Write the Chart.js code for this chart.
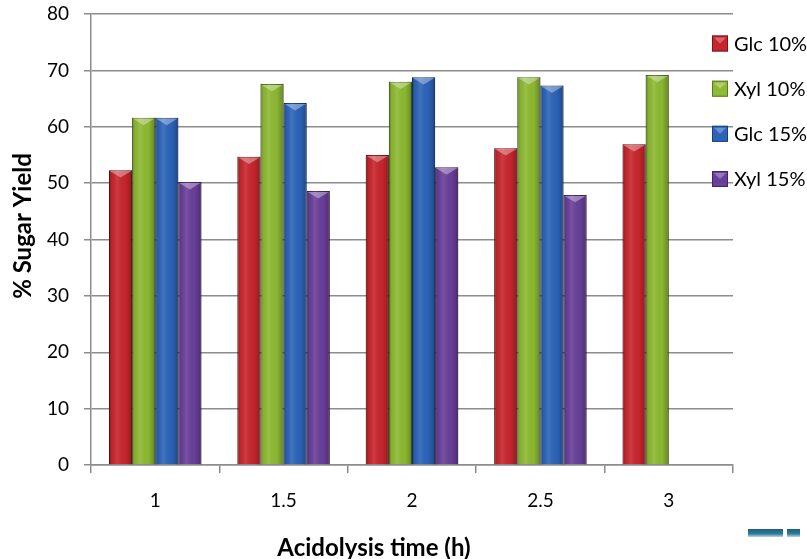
<!DOCTYPE html>
<html>
<head>
<meta charset="utf-8">
<script src="https://cdn.jsdelivr.net/npm/chart.js@4.4.1/dist/chart.umd.min.js"></script>
<style>
  html, body { margin: 0; padding: 0; background: #fff; overflow: hidden; }
  #wrap { position: relative; width: 807px; height: 559px; }
  .deco { position: absolute; top: 529px; height: 8px; background: linear-gradient(#1d5f7c, #2a7d9c 60%, #bcd6e0); }
</style>
</head>
<body>
<div id="wrap">
  <canvas id="yieldChart" width="807" height="559"></canvas>
  <div class="deco" style="left:748px;width:35px"></div>
  <div class="deco" style="left:787px;width:13px"></div>
</div>
<script>
// acidolysis time (h)
const times = ['1', '1.5', '2', '2.5', '3'];
const seriesNames = ['Glc 10%', 'Xyl 10%', 'Glc 15%', 'Xyl 15%'];
const glc10 = [52.3, 54.7, 55.0, 56.2, 56.9];
const xyl10 = [61.6, 67.6, 68.0, 68.8, 69.2];
const glc15 = [61.6, 64.2, 68.8, 67.3, null];
const xyl15 = [50.2, 48.6, 52.8, 47.9, null];
const yTicks = [0, 10, 20, 30, 40, 50, 60, 70, 80];
const xTitle = 'Acidolysis time (h)';
const yTitle = '% Sugar Yield';

const fills = ['#c8262d', '#8dba32', '#2c64b9', '#6a3f9b'];
const edges = ['#7e1418', '#5c7a1c', '#1b3f78', '#43266a'];

// shading on each bar so they look like the bevelled office bars
const barShade = {
  id: 'barShade',
  afterDatasetsDraw(chart) {
    const ctx = chart.ctx;
    chart.data.datasets.forEach((ds, i) => {
      chart.getDatasetMeta(i).data.forEach((bar, j) => {
        if (ds.data[j] == null) return;
        const { x, y, base, width } = bar.getProps(['x', 'y', 'base', 'width'], true);
        const l = x - width / 2, r = x + width / 2;
        ctx.save();
        const g = ctx.createLinearGradient(l, 0, r, 0);
        g.addColorStop(0, 'rgba(0,0,0,0.32)');
        g.addColorStop(0.12, 'rgba(0,0,0,0.05)');
        g.addColorStop(0.35, 'rgba(255,255,255,0.10)');
        g.addColorStop(0.7, 'rgba(0,0,0,0.02)');
        g.addColorStop(0.9, 'rgba(0,0,0,0.18)');
        g.addColorStop(1, 'rgba(0,0,0,0.38)');
        ctx.fillStyle = g;
        ctx.fillRect(l, y, width, base - y);
        // top bevel
        ctx.beginPath();
        ctx.moveTo(l + 1, y + 1);
        ctx.lineTo(r - 1, y + 1);
        ctx.lineTo(x, y + width * 0.32);
        ctx.closePath();
        ctx.fillStyle = 'rgba(255,255,255,0.35)';
        ctx.fill();
        ctx.restore();
      });
    });
  }
};

// legend sits on the right edge, overlapping the grid like the original
const sideLegend = {
  id: 'sideLegend',
  afterDraw(chart) {
    const ctx = chart.ctx;
    const rows = [43.5, 88.7, 133.8, 179];
    ctx.save();
    chart.data.datasets.forEach((ds, i) => {
      const cy = rows[i];
      const bx = 712, s = 16;
      ctx.fillStyle = fills[i];
      ctx.fillRect(bx, cy - s / 2, s, s);
      ctx.strokeStyle = edges[i];
      ctx.lineWidth = 1;
      ctx.strokeRect(bx + 0.5, cy - s / 2 + 0.5, s - 1, s - 1);
      ctx.fillStyle = 'rgba(255,255,255,0.3)';
      ctx.beginPath();
      ctx.moveTo(bx + 2, cy - s / 2 + 2);
      ctx.lineTo(bx + s - 2, cy - s / 2 + 2);
      ctx.lineTo(bx + s / 2, cy);
      ctx.closePath();
      ctx.fill();
      ctx.fillStyle = '#000';
      ctx.font = '20px Lato';
      ctx.textBaseline = 'middle';
      ctx.fillText(ds.label, 734, cy + 1);
    });
    ctx.restore();
  }
};

// axis titles are placed a little off-centre in the original
const axisTitles = {
  id: 'axisTitles',
  afterDraw(chart) {
    const ctx = chart.ctx;
    ctx.save();
    ctx.fillStyle = '#000';
    ctx.font = 'bold 24px Lato';
    ctx.textAlign = 'center';
    ctx.textBaseline = 'alphabetic';
    ctx.fillText(xTitle, 374, 556);
    ctx.translate(31, 226);
    ctx.rotate(-Math.PI / 2);
    ctx.fillText(yTitle, 0, 0);
    ctx.restore();
  }
};

function makeSet(i, values) {
  return {
    label: seriesNames[i],
    data: values,
    backgroundColor: fills[i],
    borderColor: edges[i],
    borderWidth: 1,
    barPercentage: 1.0,
    categoryPercentage: 0.72
  };
}

const ctx = document.getElementById('yieldChart').getContext('2d');
new Chart(ctx, {
  type: 'bar',
  data: {
    labels: times,
    datasets: [makeSet(0, glc10), makeSet(1, xyl10), makeSet(2, glc15), makeSet(3, xyl15)]
  },
  options: {
    responsive: false,
    animation: false,
    layout: { padding: { left: 0, top: 14, right: 74, bottom: 0 } },
    plugins: { legend: { display: false }, tooltip: { enabled: false } },
    scales: {
      x: {
        grid: { offset: true, drawOnChartArea: false, drawTicks: true, tickLength: 8, color: '#8c8c8c', lineWidth: 1.5 },
        border: { display: true, color: '#8c8c8c', width: 1.5 },
        ticks: { color: '#000', font: { family: 'Lato', size: 19 }, padding: 16 },
        afterFit(scale) { scale.height = 94; scale.paddingLeft = 0; scale.paddingRight = 0; }
      },
      y: {
        min: 0,
        max: 80,
        afterBuildTicks(scale) { scale.ticks = yTicks.map(v => ({ value: v })); },
        grid: { color: '#8c8c8c', lineWidth: 1.5, tickLength: 7 },
        border: { display: true, color: '#8c8c8c', width: 1.5 },
        ticks: { color: '#000', font: { family: 'Lato', size: 19 }, padding: 15 },
        afterFit(scale) { scale.width = 91; scale.paddingTop = 0; scale.paddingBottom = 0; }
      }
    }
  },
  plugins: [barShade, sideLegend, axisTitles]
});
</script>
</body>
</html>
